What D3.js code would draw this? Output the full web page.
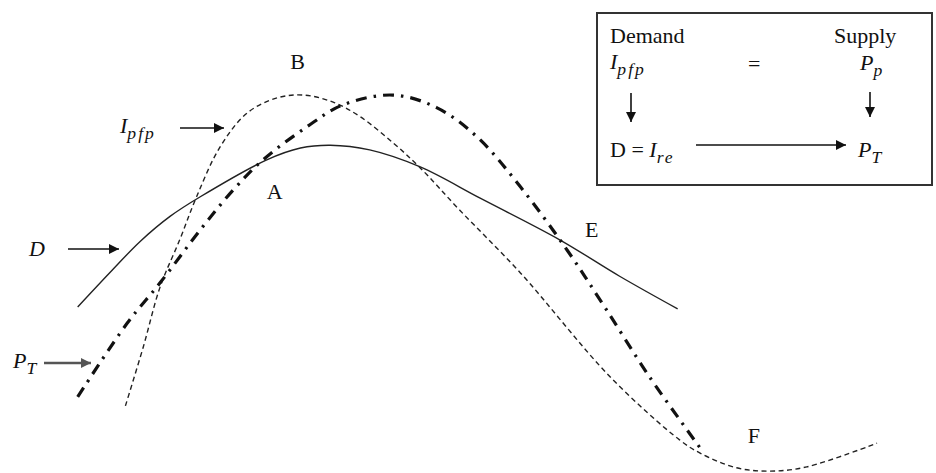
<!DOCTYPE html>
<html>
<head>
<meta charset="utf-8">
<script src="https://cdn.jsdelivr.net/npm/d3@7/dist/d3.min.js"></script>
<style>
  html, body { margin: 0; padding: 0; background: #fff; }
  svg text { font-family: "Liberation Serif", "Times New Roman", Times, serif; }
</style>
</head>
<body>
<svg id="chart" width="936" height="473"></svg>
<script>
// ---- data (abstract units: x 0..100, y 0..100) ----
const demand = [
  [8.3, 35.1], [11.8, 42.5], [15.0, 49.0], [18.2, 54.3], [21.4, 58.4], [28.5, 66.2], [32.1, 68.7],
  [35.3, 69.3], [39.5, 68.3], [44.9, 64.7], [51.3, 58.1], [59.8, 49.3], [66.2, 41.6], [72.4, 34.7]
];
const ipfp = [
  [13.4, 14.2], [15.3, 26.6], [17.1, 39.3], [19.2, 49.3], [21.0, 58.4], [23.5, 68.9],
  [26.4, 76.1], [29.6, 79.3], [32.4, 79.9], [35.6, 78.4], [38.5, 75.3], [42.0, 69.8],
  [44.9, 64.5], [49.1, 55.6], [55.6, 42.3], [65.2, 20.3], [72.6, 7.0], [74.8, 4.2],
  [78.7, 1.1], [82.3, 0.4], [86.2, 1.3], [93.7, 6.3]
];
const pT = [
  [8.3, 16.1], [13.6, 31.7], [17.1, 40.2], [21.4, 51.4], [24.9, 59.8], [28.1, 66.2],
  [32.8, 73.2], [36.6, 77.8], [42.0, 79.9], [46.7, 77.2], [51.0, 71.0], [55.6, 60.5],
  [60.6, 47.1], [64.6, 35.1], [69.4, 20.3], [74.8, 5.3]
];
const pointLabels = [
  { t: "B", x: 31.0, y: 85.4 },
  { t: "A", x: 28.5, y: 57.9 },
  { t: "E", x: 62.5, y: 49.9 },
  { t: "F", x: 79.9, y: 6.3 }
];

const W = 936, H = 473;
const FONT = "'Liberation Serif', 'Times New Roman', Times, serif";
const svg = d3.select("#chart");
const x = d3.scaleLinear().domain([0, 100]).range([0, W]);
const y = d3.scaleLinear().domain([0, 100]).range([H, 0]);

const defs = svg.append("defs");
function marker(id, color) {
  defs.append("marker").attr("id", id)
    .attr("viewBox", "0 0 10 10").attr("refX", 10).attr("refY", 5)
    .attr("markerUnits", "userSpaceOnUse")
    .attr("markerWidth", 12).attr("markerHeight", 10).attr("orient", "auto")
    .append("path").attr("d", "M0,0 L10,5 L0,10 Z").attr("fill", color);
}
marker("ah", "#111");
marker("ahg", "#555");

const line = d3.line().x(d => x(d[0])).y(d => y(d[1])).curve(d3.curveCatmullRom.alpha(0.5));

svg.append("path").datum(demand).attr("d", line)
  .attr("fill", "none").attr("stroke", "#222").attr("stroke-width", 1.4);
svg.append("path").datum(ipfp).attr("d", line)
  .attr("fill", "none").attr("stroke", "#222").attr("stroke-width", 1.4)
  .attr("stroke-dasharray", "5,3.5");
svg.append("path").datum(pT).attr("d", line)
  .attr("fill", "none").attr("stroke", "#111").attr("stroke-width", 3.2)
  .attr("stroke-dasharray", "11,7,2.5,7");

// point labels
svg.selectAll("text.pl").data(pointLabels).enter().append("text")
  .attr("class", "pl").attr("x", d => x(d.x)).attr("y", d => y(d.y))
  .attr("font-family", FONT)
  .attr("font-size", 22).attr("fill", "#111").text(d => d.t);

// helper to write symbol with subscript
function sym(g, px, py, main, sub, size, opts) {
  opts = opts || {};
  const t = g.append("text").attr("x", px).attr("y", py).attr("font-size", size)
    .attr("font-family", FONT).attr("fill", "#111");
  if (opts.prefix) t.append("tspan").text(opts.prefix);
  t.append("tspan").attr("font-style", "italic").text(main);
  t.append("tspan").attr("font-style", "italic").attr("font-size", size * 0.8)
    .attr("dy", size * 0.25).attr("letter-spacing", opts.ls || 1.5).text(sub);
  return t;
}
function txt(g, px, py, s, italic) {
  return g.append("text").attr("x", px).attr("y", py).attr("font-size", 22)
    .attr("font-family", FONT).attr("font-style", italic ? "italic" : "normal")
    .attr("fill", "#111").text(s);
}

const g = svg.append("g");
// curve labels with arrows
sym(g, 120, 133, "I", "pfp", 22, { ls: 2 });
g.append("line").attr("x1", 180).attr("y1", 128).attr("x2", 224).attr("y2", 128)
  .attr("stroke", "#111").attr("stroke-width", 1.6).attr("marker-end", "url(#ah)");

txt(g, 29, 256, "D", true);
g.append("line").attr("x1", 68).attr("y1", 249).attr("x2", 119).attr("y2", 249)
  .attr("stroke", "#111").attr("stroke-width", 1.6).attr("marker-end", "url(#ah)");

sym(g, 13, 368, "P", "T", 22, { ls: 0 });
g.append("line").attr("x1", 44).attr("y1", 363).attr("x2", 91).attr("y2", 363)
  .attr("stroke", "#555").attr("stroke-width", 2.6).attr("marker-end", "url(#ahg)");

// legend box
const lg = svg.append("g");
lg.append("rect").attr("x", 597).attr("y", 13).attr("width", 335).attr("height", 172)
  .attr("fill", "#fff").attr("stroke", "#333").attr("stroke-width", 2);
txt(lg, 610, 43, "Demand");
txt(lg, 834, 43, "Supply");
sym(lg, 610, 69, "I", "pfp", 22, { ls: 2 });
txt(lg, 748, 71, "=");
sym(lg, 860, 70, "P", "p", 22, { ls: 0 });
lg.append("line").attr("x1", 631).attr("y1", 93).attr("x2", 631).attr("y2", 122)
  .attr("stroke", "#111").attr("stroke-width", 1.6).attr("marker-end", "url(#ah)");
lg.append("line").attr("x1", 870).attr("y1", 92).attr("x2", 870).attr("y2", 117)
  .attr("stroke", "#111").attr("stroke-width", 1.6).attr("marker-end", "url(#ah)");
sym(lg, 610, 157, "I", "re", 22, { prefix: "D = ", ls: 2 });
lg.append("line").attr("x1", 696).attr("y1", 145).attr("x2", 846).attr("y2", 145)
  .attr("stroke", "#111").attr("stroke-width", 1.6).attr("marker-end", "url(#ah)");
sym(lg, 858, 157, "P", "T", 22, { ls: 0 });
</script>
</body>
</html>
